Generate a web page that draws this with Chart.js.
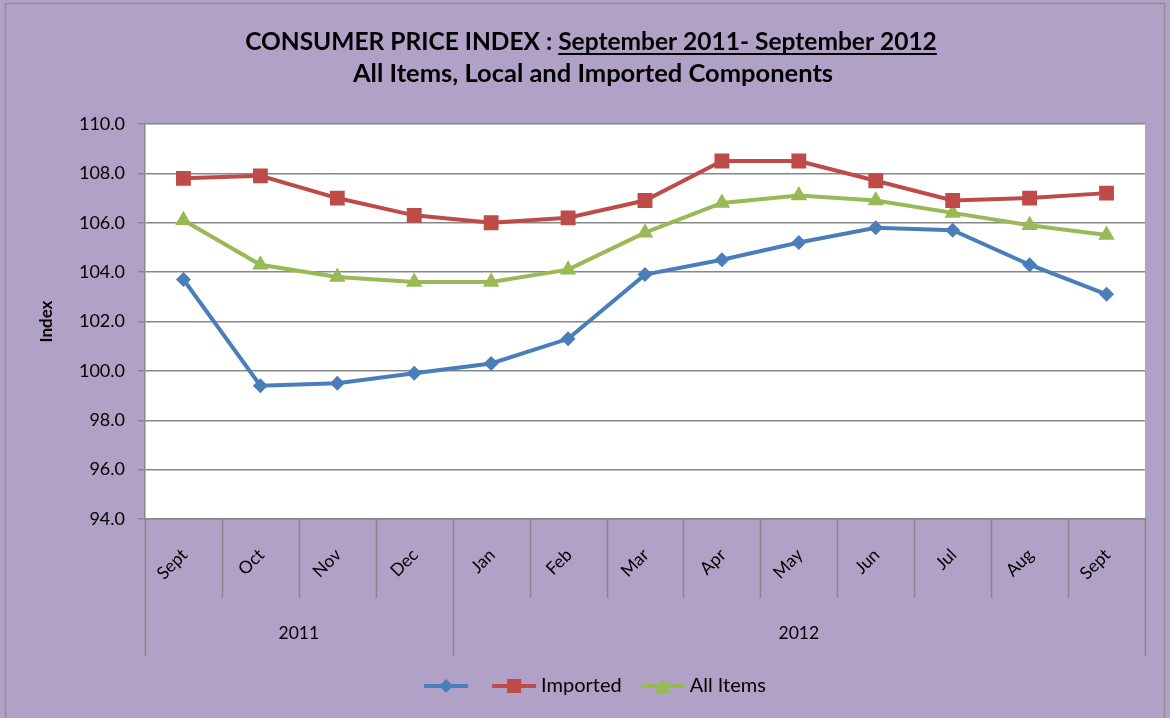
<!DOCTYPE html>
<html>
<head>
<meta charset="utf-8">
<script src="https://cdn.jsdelivr.net/npm/chart.js@4.4.1/dist/chart.umd.min.js"></script>
<style>
  html,body{margin:0;padding:0;background:#fff}
  #wrap{width:1170px;height:718px;position:relative}
</style>
</head>
<body>
<div id="wrap"><canvas id="cpi"></canvas></div>
<script>
/* CPI Sept 2011 - Sept 2012 : local / imported / all items */
const MONTHS=['Sept','Oct','Nov','Dec','Jan','Feb','Mar','Apr','May','Jun','Jul','Aug','Sept'];
const YEAR_LABELS=['2011','2012'];
const YEAR_SPANS=[4,9];           // months per year group
const LOCAL=[103.7,99.4,99.5,99.9,100.3,101.3,103.9,104.5,105.2,105.8,105.7,104.3,103.1];
const IMPORTED=[107.8,107.9,107.0,106.3,106.0,106.2,106.9,108.5,108.5,107.7,106.9,107.0,107.2];
const ALL_ITEMS=[106.1,104.3,103.8,103.6,103.6,104.1,105.6,106.8,107.1,106.9,106.4,105.9,105.5];
const Y_MIN=94, Y_MAX=110, Y_STEP=2;

const PURPLE='#b2a1c7', GRID='#878787';
const BLUE='#4a7ebb', RED='#be4b48', GREEN='#98b954';
const FONT='Lato, "Open Sans", sans-serif';

// legend swatch: line with marker on top, like the Excel legend
function swatch(color,style){
  const c=document.createElement('canvas');c.width=46;c.height=18;
  const x=c.getContext('2d');
  x.strokeStyle=color;x.lineWidth=4;x.beginPath();x.moveTo(1,9);x.lineTo(45,9);x.stroke();
  x.fillStyle=color;x.beginPath();
  if(style==='rectRot'){x.moveTo(23,2);x.lineTo(30,9);x.lineTo(23,16);x.lineTo(16,9);}
  else if(style==='rect'){x.rect(16,2,14,14);}
  else {x.moveTo(23,1);x.lineTo(31,16);x.lineTo(15,16);}
  x.closePath();x.fill();
  return c;
}

const frame={
  id:'frame',
  afterLayout(c){ // nudge the legend a bit to the right, as in the original
    if(c.legend){c.legend.left+=11;c.legend.right+=11;}
  },
  beforeDraw(c){
    const {ctx,chartArea:a}=c;
    ctx.save();
    ctx.fillStyle=PURPLE;ctx.fillRect(0,0,c.width,c.height);
    ctx.fillStyle='#fff';ctx.fillRect(a.left,a.top,a.right-a.left,a.bottom-a.top);
    ctx.strokeStyle='#8e8e8e';ctx.lineWidth=1.5;ctx.strokeRect(5.5,3.5,1159,716);
    ctx.restore();
  },
  afterDraw(c){
    const {ctx,chartArea:a}=c;
    const xs=c.scales.x;
    const step=xs.getPixelForValue(1)-xs.getPixelForValue(0);
    const b0=xs.getPixelForValue(0)-step/2;
    ctx.save();
    // category separators below the axis
    ctx.strokeStyle=GRID;ctx.lineWidth=1.5;
    const yearEdges=[0];YEAR_SPANS.reduce((s,n)=>{yearEdges.push(s+n);return s+n;},0);
    for(let i=0;i<=MONTHS.length;i++){
      const x=Math.round(b0+i*step)+0.5;
      const bottom=yearEdges.includes(i)?a.bottom+137:a.bottom+79;
      ctx.beginPath();ctx.moveTo(x,a.bottom);ctx.lineTo(x,bottom);ctx.stroke();
    }
    // rotated month labels
    ctx.fillStyle='#000';ctx.font='17.5px '+FONT;
    ctx.textAlign='right';ctx.textBaseline='middle';
    MONTHS.forEach((m,i)=>{
      const cx=xs.getPixelForValue(i);
      ctx.save();ctx.translate(cx+1,a.bottom+33);ctx.rotate(-Math.PI/4);
      ctx.fillText(m,0,0);ctx.restore();
    });
    // year groups
    ctx.textAlign='center';
    YEAR_LABELS.forEach((y,i)=>{
      const x=b0+(yearEdges[i]+yearEdges[i+1])/2*step;
      ctx.fillText(y,x,a.bottom+114);
    });
    // title, second half underlined
    ctx.font='bold 24.5px '+FONT;ctx.textAlign='left';ctx.textBaseline='alphabetic';
    const t1='CONSUMER PRICE INDEX : ', t2='September 2011- September 2012';
    const w1=ctx.measureText(t1).width, w2=ctx.measureText(t2).width;
    const sx=591-(w1+w2)/2;
    ctx.fillText(t1,sx,50);ctx.fillText(t2,sx+w1,50);
    ctx.fillRect(sx+w1,53,w2,2);
    ctx.font='bold 25.5px '+FONT;ctx.textAlign='center';
    ctx.fillText('All Items, Local and Imported Components',593,82);
    ctx.restore();
  }
};

const line=(label,data,color,style,r)=>({
  label,data,borderColor:color,backgroundColor:color,borderWidth:4,
  pointStyle:style,pointRadius:r,pointHoverRadius:r,pointBorderWidth:0,
  pointBackgroundColor:color,tension:0
});

new Chart(document.getElementById('cpi'),{
  type:'line',
  data:{labels:MONTHS,datasets:[
    line('',LOCAL,BLUE,'rectRot',7.5),
    line('Imported',IMPORTED,RED,'rect',10.5),
    line('All Items',ALL_ITEMS,GREEN,'triangle',9.5),
  ]},
  plugins:[frame],
  options:{
    responsive:true,maintainAspectRatio:false,animation:false,
    layout:{padding:{top:124,left:28,right:25,bottom:12}},
    plugins:{
      legend:{position:'bottom',
        labels:{color:'#000',font:{family:FONT,size:20},usePointStyle:true,pointStyleWidth:34,boxHeight:17,padding:24,
          generateLabels:ch=>ch.data.datasets.map((d,i)=>({
            text:d.label,fillStyle:d.borderColor,strokeStyle:d.borderColor,lineWidth:0,
            pointStyle:swatch(d.borderColor,d.pointStyle),datasetIndex:i,hidden:false,fontColor:'#000'}))}},
      tooltip:{enabled:false}
    },
    scales:{
      x:{offset:true,grid:{display:false},border:{display:true,color:GRID,width:1.5},
        ticks:{display:false},afterFit:s=>{s.height=133;}},
      y:{min:Y_MIN,max:Y_MAX,
        ticks:{stepSize:Y_STEP,color:'#000',font:{family:FONT,size:18},padding:13,callback:v=>v.toFixed(1)},
        grid:{color:GRID,lineWidth:1.5,tickLength:7},
        border:{display:true,color:GRID,width:1.5},
        title:{display:true,text:'Index',color:'#000',font:{family:FONT,size:17,weight:'bold'},padding:{top:8,bottom:0}},
        afterFit:s=>{s.width=117;}}
    }
  }
});
</script>
</body>
</html>
